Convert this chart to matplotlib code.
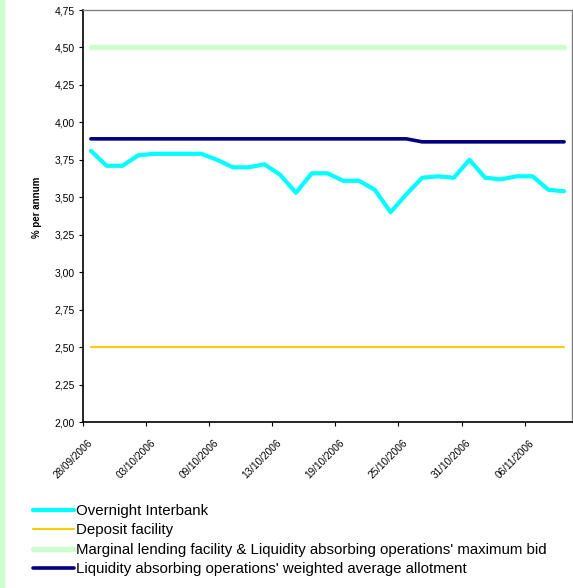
import matplotlib
matplotlib.use("Agg")
import matplotlib.pyplot as plt
from matplotlib.patches import Rectangle
from matplotlib.ticker import FuncFormatter, MultipleLocator, FixedLocator
import numpy as np

plt.rcParams["font.family"] = ["Liberation Sans", "DejaVu Sans"]

# Daily rates, % per annum
overnight = [3.81, 3.71, 3.71, 3.78, 3.79, 3.79, 3.79, 3.79, 3.75, 3.70,
             3.70, 3.72, 3.65, 3.53, 3.66, 3.66, 3.61, 3.61, 3.55, 3.40,
             3.52, 3.63, 3.64, 3.63, 3.75, 3.63, 3.62, 3.64, 3.64, 3.55,
             3.54]
deposit = [2.50] * 31
marginal = [4.50] * 31
weighted_avg = [3.89] * 21 + [3.87] * 10

tick_labels = ["28/09/2006", "03/10/2006", "09/10/2006", "13/10/2006",
               "19/10/2006", "25/10/2006", "31/10/2006", "06/11/2006"]
label_step = 4

x = np.arange(len(overnight))

fig = plt.figure(figsize=(5.73, 5.88), dpi=100)
fig.patch.set_facecolor("white")

# light green stripe along the left edge
fig.patches.append(Rectangle((0, 0), 5 / 573, 1, transform=fig.transFigure,
                             facecolor="#CCFFCC", edgecolor="none", zorder=0))

ax = fig.add_axes([83 / 573, 1 - 422 / 588, 489 / 573, 412 / 588])

l_on, = ax.plot(x, overnight, color="#00FFFF", lw=3.0,
                solid_capstyle="round", solid_joinstyle="round", zorder=4,
                label="Overnight Interbank")
l_dep, = ax.plot(x, deposit, color="#FFCC00", lw=1.5,
                 solid_capstyle="round", zorder=3, label="Deposit facility")
l_mar, = ax.plot(x, marginal, color="#CCFFCC", lw=3.8,
                 solid_capstyle="round", zorder=3,
                 label="Marginal lending facility & Liquidity absorbing operations' maximum bid")
l_wav, = ax.plot(x, weighted_avg, color="#000080", lw=2.6,
                 solid_capstyle="round", solid_joinstyle="round", zorder=4,
                 label="Liquidity absorbing operations' weighted average allotment")

ax.set_xlim(-0.5, len(overnight) - 0.5)
ax.set_ylim(2.0, 4.75)

ax.yaxis.set_major_locator(MultipleLocator(0.25))
ax.yaxis.set_major_formatter(FuncFormatter(lambda v, p: f"{v:.2f}".replace(".", ",")))
ax.tick_params(axis="y", direction="out", length=3, width=0.8, pad=3,
               labelsize=7.5, colors="black")

label_pos = np.arange(len(tick_labels)) * label_step
ax.set_xticks(label_pos)
ax.set_xticklabels(tick_labels, rotation=45, ha="right", va="center",
                   rotation_mode="anchor", fontsize=7.2)
ax.tick_params(axis="x", which="major", length=0, pad=14)
ax.xaxis.set_minor_locator(FixedLocator(label_pos - 0.5))
ax.tick_params(axis="x", which="minor", direction="out", length=3, width=0.8)

ax.spines["left"].set_color("black")
ax.spines["bottom"].set_color("black")
ax.spines["left"].set_linewidth(1.2)
ax.spines["bottom"].set_linewidth(1.2)
ax.spines["top"].set_color("#808080")
ax.spines["right"].set_color("#808080")
ax.spines["top"].set_linewidth(1.0)
ax.spines["right"].set_linewidth(1.0)

ax.set_ylabel("% per annum", fontsize=7, fontweight="bold")
ax.yaxis.set_label_coords(-0.084, 0.52)

fig.legend(handles=[l_on, l_dep, l_mar, l_wav], loc="upper left",
           bbox_to_anchor=(33 / 573, 1 - 504 / 588), frameon=False,
           fontsize=10.8, handlelength=2.7, handletextpad=0.2,
           labelspacing=0.36, borderpad=0, borderaxespad=0)

fig.savefig("out.png", dpi=100, facecolor="white")
